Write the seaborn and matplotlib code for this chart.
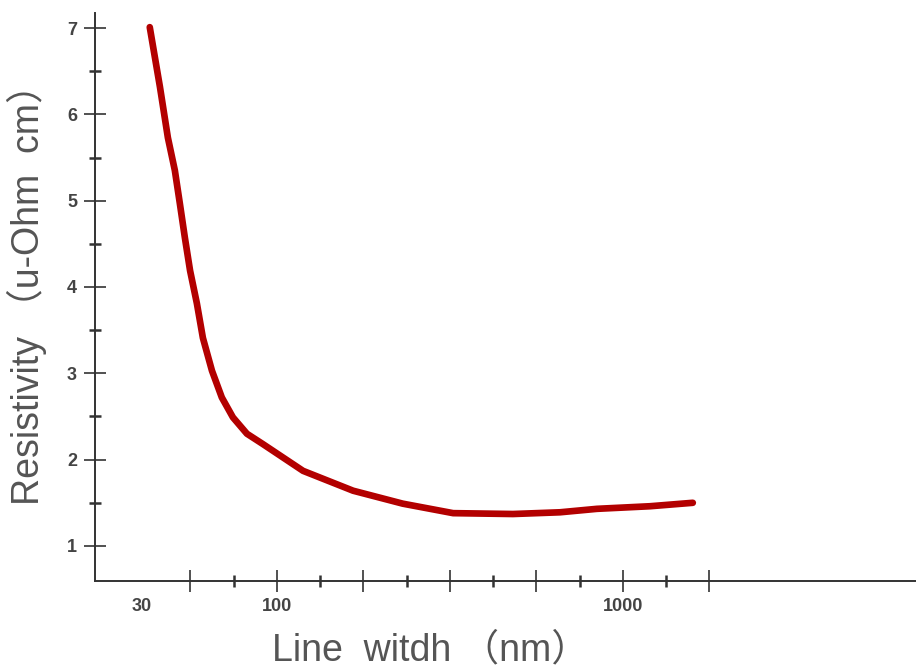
import numpy as np
import pandas as pd
import matplotlib
matplotlib.use("Agg")
import matplotlib.pyplot as plt
from matplotlib.ticker import FixedLocator, NullFormatter
import seaborn as sns

# ---- data ----
line_width_nm = [42.9, 45.9, 48.4, 50.7, 52.4, 54.2, 56.1, 58.7, 61.1, 64.9,
                 69.3, 74.6, 81.9, 91.1, 119, 166, 231, 323, 481, 658,
                 841, 1197, 1592]
resistivity = [7.01, 6.32, 5.73, 5.35, 4.97, 4.57, 4.19, 3.81, 3.41, 3.03,
               2.72, 2.49, 2.30, 2.18, 1.87, 1.64, 1.49, 1.38, 1.37, 1.39,
               1.43, 1.46, 1.50]

x_label_pos = [40.7, 100, 1000]
x_label_text = ["30", "100", "1000"]
y_ticks = [1, 2, 3, 4, 5, 6, 7]
y_minor_ticks = [1.5, 2.5, 3.5, 4.5, 5.5, 6.5]

df = pd.DataFrame({"width": line_width_nm, "rho": resistivity})

sns.set_theme(style="white")
plt.rcParams["font.family"] = ["Liberation Sans", "Noto Sans CJK SC", "DejaVu Sans"]

fig = plt.figure(figsize=(9.16, 6.69), dpi=100)
ax = fig.add_axes([95/916, 1 - 581/669, 821/916, 568/669])

sns.lineplot(data=df, x="width", y="rho", ax=ax, color="#b30000",
             linewidth=4.8, solid_capstyle="round", solid_joinstyle="round")

ax.set_xscale("log")
ax.set_xlim(29.8, 7030)
ax.set_ylim(0.594, 7.174)

for s in ["top", "right"]:
    ax.spines[s].set_visible(False)
for s in ["left", "bottom"]:
    ax.spines[s].set_color("#333333")
    ax.spines[s].set_linewidth(1.4)

# x ticks: a major tick every quarter decade, minor ticks between them
major_x = [float(v) for v in 10 ** np.arange(1.75, 3.26, 0.25)]
minor_x = [float(v) for v in 10 ** np.arange(1.875, 3.2, 0.25)]
tick_map = {round(v, 1): "" for v in major_x}
for p, t in zip(x_label_pos, x_label_text):
    near = [k for k in tick_map if abs(np.log10(k) - np.log10(p)) < 0.01]
    tick_map[near[0] if near else p] = t
positions = sorted(tick_map)
ax.xaxis.set_major_locator(FixedLocator(positions))
ax.set_xticklabels([tick_map[p] for p in positions])
ax.xaxis.set_minor_locator(FixedLocator(minor_x))
ax.xaxis.set_minor_formatter(NullFormatter())

ax.set_yticks(y_ticks)
ax.yaxis.set_minor_locator(FixedLocator(y_minor_ticks))
ax.yaxis.set_minor_formatter(NullFormatter())

ax.tick_params(axis="both", which="major", direction="inout", length=16,
               width=1.2, color="#333333", labelsize=13, labelcolor="#444444")
ax.tick_params(axis="both", which="minor", direction="inout", length=8.5,
               width=1.8, color="#333333")
ax.tick_params(axis="y", which="major", pad=5)
ax.tick_params(axis="x", which="major", pad=4)
ax.tick_params(bottom=True, left=True, which="both")
for lab in ax.get_xticklabels() + ax.get_yticklabels():
    lab.set_fontweight("bold")

# the "30" label has no tick mark of its own
ticks = ax.xaxis.get_major_ticks()
for tk, p in zip(ticks, positions):
    if tick_map[p] == "30":
        tk.tick1line.set_visible(False)
        tk.tick2line.set_visible(False)

ax.set_xlabel("Line  witdh （nm）", fontsize=27, color="#555555")
ax.set_ylabel("Resistivity （u-Ohm  cm）", fontsize=27, color="#555555")
ax.xaxis.set_label_coords(0.409, -0.090)
ax.yaxis.set_label_coords(-0.058, 0.521)

fig.savefig("out.png", dpi=100, facecolor="white")
